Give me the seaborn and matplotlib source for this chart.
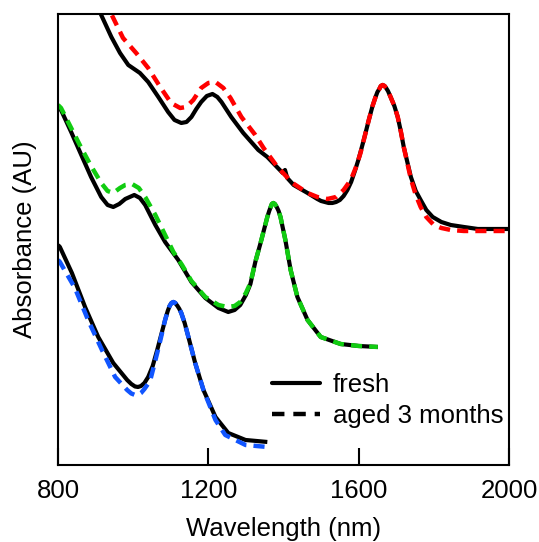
import matplotlib
matplotlib.use("Agg")
import matplotlib.pyplot as plt
from matplotlib.lines import Line2D
import seaborn as sns
import pandas as pd

# Offset absorbance spectra (arbitrary units), wavelength in nm
wl_top_fresh = [800, 850, 900, 915, 942, 965, 987, 1018, 1040, 1067, 1093, 1110, 1128, 1142,
                1155, 1168, 1181, 1196, 1211, 1224, 1235, 1261, 1293, 1333, 1357, 1385, 1398,
                1404, 1410, 1427, 1464, 1490, 1500, 1510, 1520, 1530, 1540, 1550, 1560, 1570,
                1580, 1590, 1600, 1610, 1617, 1627, 1637, 1645, 1650, 1655, 1659, 1664, 1669,
                1673, 1678, 1685, 1695, 1704, 1712, 1720, 1739, 1752, 1765, 1780, 1797, 1820,
                1845, 1880, 1917, 1960, 2000]
ab_top_fresh = [5.40, 5.05, 4.63, 4.50, 4.28, 4.12, 4.00, 3.92, 3.83, 3.68, 3.53, 3.45, 3.42, 3.43,
                3.48, 3.56, 3.63, 3.69, 3.71, 3.68, 3.63, 3.48, 3.32, 3.15, 3.08, 2.97, 2.92,
                2.95, 2.87, 2.80, 2.72, 2.66, 2.64, 2.63, 2.62, 2.62, 2.63, 2.65, 2.69, 2.75,
                2.83, 2.94, 3.06, 3.20, 3.30, 3.45, 3.59, 3.68, 3.73, 3.76, 3.79, 3.80, 3.79,
                3.77, 3.74, 3.68, 3.59, 3.48, 3.34, 3.18, 2.88, 2.74, 2.65, 2.55, 2.48, 2.43,
                2.40, 2.38, 2.36, 2.36, 2.36]

wl_top_aged = [800, 850, 900, 947, 973, 1008, 1040, 1072, 1101, 1125, 1141, 1160, 1181, 1200,
               1219, 1240, 1259, 1288, 1325, 1347, 1384, 1424, 1464, 1490, 1517, 1540, 1560,
               1579, 1592, 1605, 1617, 1627, 1637, 1645, 1650, 1655, 1659, 1664, 1669, 1673,
               1678, 1685, 1695, 1704, 1712, 1720, 1739, 1752, 1765, 1780, 1800, 1820, 1845,
               1880, 1917, 1960, 2000]
ab_top_aged = [5.55, 5.20, 4.83, 4.47, 4.27, 4.12, 3.97, 3.78, 3.62, 3.57, 3.58, 3.65, 3.77, 3.82,
               3.83, 3.77, 3.67, 3.48, 3.30, 3.17, 2.98, 2.82, 2.72, 2.68, 2.66, 2.68, 2.75,
               2.85, 2.97, 3.12, 3.30, 3.45, 3.59, 3.68, 3.73, 3.76, 3.79, 3.80, 3.79, 3.77,
               3.74, 3.68, 3.59, 3.48, 3.34, 3.18, 2.86, 2.70, 2.58, 2.48, 2.40, 2.37, 2.35,
               2.34, 2.34, 2.34, 2.34]

wl_mid_fresh = [800, 808, 835, 862, 888, 915, 932, 947, 963, 979, 1003, 1018, 1032, 1059, 1085,
                1120, 1155, 1192, 1227, 1253, 1270, 1285, 1300, 1312, 1325, 1339, 1357, 1362,
                1366, 1369, 1373, 1377, 1382, 1387, 1392, 1405, 1419, 1437, 1464, 1499, 1552,
                1600, 1651]
ab_mid_fresh = [3.57, 3.55, 3.33, 3.10, 2.88, 2.68, 2.60, 2.58, 2.61, 2.66, 2.70, 2.67, 2.60, 2.40,
                2.23, 2.05, 1.83, 1.67, 1.57, 1.53, 1.55, 1.60, 1.70, 1.81, 2.03, 2.22, 2.48,
                2.54, 2.58, 2.61, 2.62, 2.61, 2.58, 2.54, 2.48, 2.25, 1.95, 1.68, 1.45, 1.28,
                1.21, 1.19, 1.18]

wl_mid_aged = [800, 808, 835, 862, 888, 915, 932, 947, 965, 979, 997, 1015, 1032, 1059, 1085,
               1107, 1130, 1155, 1192, 1227, 1250, 1270, 1285, 1300, 1312, 1325, 1339, 1357,
               1362, 1366, 1369, 1373, 1377, 1382, 1387, 1392, 1405, 1419, 1437, 1464, 1499,
               1552, 1600, 1651]
ab_mid_aged = [3.60, 3.57, 3.37, 3.17, 2.99, 2.82, 2.74, 2.72, 2.77, 2.80, 2.81, 2.77, 2.68, 2.50,
               2.30, 2.13, 2.00, 1.84, 1.68, 1.60, 1.58, 1.59, 1.63, 1.72, 1.82, 2.03, 2.22,
               2.48, 2.54, 2.58, 2.61, 2.62, 2.61, 2.58, 2.54, 2.48, 2.25, 1.95, 1.68, 1.45,
               1.28, 1.21, 1.19, 1.18]

wl_low_fresh = [800, 805, 837, 872, 907, 947, 984, 995, 1005, 1013, 1021, 1030, 1040, 1052, 1064,
                1085, 1092, 1097, 1102, 1107, 1112, 1118, 1123, 1128, 1137, 1147, 1165, 1187,
                1219, 1253, 1299, 1357]
ab_low_fresh = [2.20, 2.18, 1.92, 1.58, 1.28, 1.02, 0.85, 0.81, 0.785, 0.78, 0.79, 0.82, 0.88,
                0.99, 1.15, 1.45, 1.54, 1.59, 1.62, 1.63, 1.62, 1.59, 1.56, 1.52, 1.42, 1.28,
                1.02, 0.75, 0.48, 0.32, 0.25, 0.23]

wl_low_aged = [800, 805, 845, 880, 917, 952, 984, 995, 1005, 1013, 1021, 1030, 1045, 1058, 1070,
               1085, 1092, 1097, 1102, 1107, 1112, 1118, 1123, 1128, 1137, 1147, 1165, 1187,
               1219, 1245, 1299, 1357]
ab_low_aged = [2.05, 2.03, 1.77, 1.45, 1.15, 0.88, 0.75, 0.715, 0.70, 0.70, 0.72, 0.76, 0.84,
               1.03, 1.21, 1.45, 1.54, 1.59, 1.62, 1.63, 1.62, 1.59, 1.56, 1.52, 1.42, 1.28,
               1.02, 0.75, 0.45, 0.30, 0.20, 0.18]

legend_labels = ["fresh", "aged 3 months"]
x_ticks = [800, 1200, 1600, 2000]

sns.set_style("ticks")
plt.rcParams["font.family"] = ["Liberation Sans", "DejaVu Sans"]
plt.rcParams["text.color"] = "black"
plt.rcParams["axes.labelcolor"] = "black"

fig = plt.figure(figsize=(5.39, 5.42), dpi=100)
ax = fig.add_axes([0.1076, 0.1421, 0.8367, 0.8321])

solid_kw = dict(color="black", lw=3.0, solid_capstyle="butt", solid_joinstyle="round")
dash_style = (0, (2.5, 1.6))

pairs = [
    (wl_top_fresh, ab_top_fresh, wl_top_aged, ab_top_aged, "#ff0000"),
    (wl_mid_fresh, ab_mid_fresh, wl_mid_aged, ab_mid_aged, "#11cc11"),
    (wl_low_fresh, ab_low_fresh, wl_low_aged, ab_low_aged, "#1155ff"),
]

for wf, af, wa, aa, col in pairs:
    fresh = pd.DataFrame({"wavelength": wf, "absorbance": af})
    aged = pd.DataFrame({"wavelength": wa, "absorbance": aa})
    sns.lineplot(data=fresh, x="wavelength", y="absorbance", ax=ax, legend=False, **solid_kw)
    sns.lineplot(data=aged, x="wavelength", y="absorbance", ax=ax, legend=False,
                 color=col, lw=3.2, linestyle=dash_style, dash_capstyle="butt",
                 dash_joinstyle="round")

ax.set_xlim(800, 2000)
ax.set_ylim(0, 4.51)
ax.set_xticks(x_ticks)
ax.set_xticklabels([str(t) for t in x_ticks])
ax.set_yticks([])

for side in ["left", "right", "top", "bottom"]:
    ax.spines[side].set_visible(True)
    ax.spines[side].set_linewidth(1.5)
    ax.spines[side].set_color("black")

ax.tick_params(axis="x", direction="in", length=12, width=1.5, pad=10,
               labelsize=18.5, colors="black")
ax.set_xlabel("Wavelength (nm)", fontsize=18.5, labelpad=10)
ax.set_ylabel("Absorbance (AU)", fontsize=18.5, labelpad=15)

handles = [
    Line2D([], [], color="black", lw=3.0),
    Line2D([], [], color="black", lw=3.2, linestyle=(0, (2.8, 2.0))),
]
ax.legend(handles, legend_labels, loc="upper left", bbox_to_anchor=(0.4745, 0.205),
          frameon=False, fontsize=18.5, handlelength=1.87, handletextpad=0.5,
          labelspacing=0.3, borderpad=0, borderaxespad=0)

fig.savefig("out.png", dpi=100)
